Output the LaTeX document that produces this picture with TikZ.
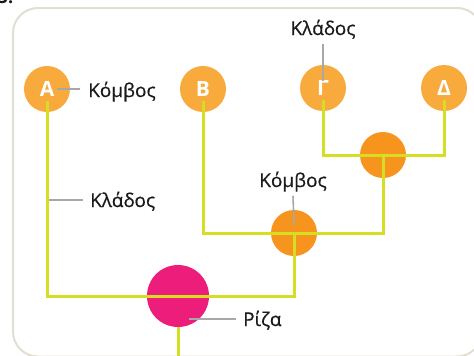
\documentclass[tikz,border=0pt]{standalone}
\usepackage{fontspec}
\setmainfont{Open Sans}
\newfontfamily\labelfont{Open Sans}[FakeBold=0.6]
\definecolor{leaforange}{HTML}{F8AA3C}
\definecolor{innerorange}{HTML}{F7941E}
\definecolor{rootpink}{HTML}{EC1D7B}
\definecolor{branchgreen}{HTML}{D6DE23}
\definecolor{framebeige}{HTML}{E3DED3}
\definecolor{anngray}{HTML}{A8A8A8}
\definecolor{shadowgray}{HTML}{C9C9C9}
\definecolor{textblack}{HTML}{1A1A1A}
\tikzset{
  leaf/.style={circle, fill=leaforange, minimum size=46pt, inner sep=0pt,
    text=white, font=\fontsize{21}{21}\selectfont\bfseries},
  inner/.style={circle, fill=innerorange, minimum size=46pt, inner sep=0pt},
  rootnode/.style={circle, fill=rootpink, minimum size=62pt, inner sep=0pt},
  branch/.style={draw=branchgreen, line width=3pt,
    preaction={draw=shadowgray, line width=3pt, transform canvas={xshift=0.9pt,yshift=-0.9pt}}},
  ann/.style={draw=anngray, line width=1.6pt},
  lbl/.style={inner sep=0pt, anchor=base west, text=textblack, font=\labelfont\fontsize{19}{19}\selectfont},
  lblc/.style={inner sep=0pt, anchor=base, text=textblack, font=\labelfont\fontsize{19}{19}\selectfont},
  framebox/.style={draw=framebeige, line width=2pt, rounded corners=25pt}
}
\begin{document}
\begin{tikzpicture}[x=1pt, y=-1pt]
\useasboundingbox (0,0) rectangle (474,356);
% frame
\draw[framebox] (13,8) rectangle (482,356.5);
% cropped heading fragment
\node[inner sep=0pt, anchor=base east, text=textblack, font=\fontsize{18}{18}\selectfont\bfseries] (num) at (13.5,4) {5.};
% nodes
\node[leaf] (A) at (47,89) {Α};
\node[leaf] (B) at (203,89) {Β};
\node[leaf] (G) at (323,88) {Γ};
\node[leaf] (D) at (444,88) {Δ};
\node[inner] (N1) at (383,155) {};
\node[inner] (N2) at (294,233) {};
\node[rootnode] (R) at (178,296) {};
\coordinate (rootend) at (178,358);
% branches
\draw[branch] ([yshift=-12pt]A.center) |- (R.center) -| (N2.center);
\draw[branch] ([yshift=-12pt]B.center) |- (N2.center) -| (N1.center);
\draw[branch] ([yshift=-12pt]G.center) |- (N1.center) -| ([yshift=-12pt]D.center);
\draw[branch] (R.south) -- (rootend);
% labels
\node[lbl] (KA) at (88,97) {Κόμβος};
\node[lblc] (KLtop) at (323,35) {Κλάδος};
\node[lbl] (KLleft) at (90,207) {Κλάδος};
\node[lblc] (KM) at (293,187) {Κόμβος};
\node[lbl] (RZ) at (243,326) {Ρίζα};
\coordinate (klleftpt) at (49,200);
% annotation lines
\draw[ann] ([xshift=10pt]A.center) -- ([xshift=-8pt]A.center -| KA.west);
\draw[ann] ([yshift=-5pt]KLtop.south) -- ([yshift=-16pt]G.north);
\draw[ann] (klleftpt) -- ([xshift=-7pt]klleftpt -| KLleft.west);
\draw[ann] ([yshift=-4pt]KM.south) -- ([yshift=-15pt]N2.north);
\draw[ann] ([xshift=11pt,yshift=-23pt]R.center) -- ([xshift=-7pt,yshift=-23pt]R.center -| RZ.west);
\end{tikzpicture}
\end{document}
